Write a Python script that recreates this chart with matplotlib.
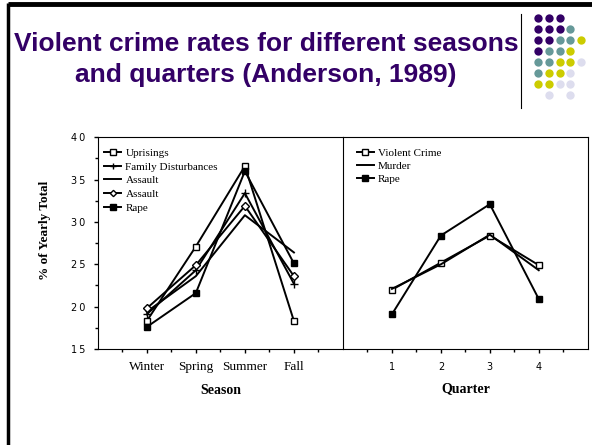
import matplotlib
matplotlib.use("Agg")
import matplotlib.pyplot as plt
from matplotlib.lines import Line2D

# --- data ---
seasons = ["Winter", "Spring", "Summer", "Fall"]
uprisings = [18.3, 27.1, 36.6, 18.3]
family_dist = [19.1, 24.3, 33.4, 22.7]
assault_line = [19.4, 23.6, 30.8, 26.4]
assault_dia = [19.8, 24.9, 31.9, 23.6]
rape_season = [17.6, 21.6, 36.0, 25.1]

quarters = [1, 2, 3, 4]
violent_crime = [22.0, 25.2, 28.4, 24.9]
murder = [22.1, 25.0, 28.5, 24.3]
rape_quarter = [19.1, 28.4, 32.1, 20.9]

title_lines = ["Violent crime rates for different seasons",
               "and quarters (Anderson, 1989)"]

PURPLE = "#330066"
TEAL = "#669999"
YELLOW = "#CCCC00"
LAV = "#DDDDEE"

# dot pattern of the slide decoration, one string per row
dot_rows = ["PPP", "PPPT", "PPTTY", "PTTY", "TTYYL", "TYYL", "YYLL", ".L.L"]
dot_colors = {"P": PURPLE, "T": TEAL, "Y": YELLOW, "L": LAV}

W, H = 592, 445
fig = plt.figure(figsize=(W / 100, H / 100), dpi=100)

# slide background: border, title and decoration
bg = fig.add_axes([0, 0, 1, 1])
bg.set_xlim(0, W)
bg.set_ylim(H, 0)
bg.axis("off")
bg.plot([8, W], [4, 4], color="black", lw=3.5, solid_capstyle="butt")
bg.plot([8, 8], [3, H], color="black", lw=2.5, solid_capstyle="butt")
bg.plot([521, 521], [14, 108], color="black", lw=0.8)
for r, row in enumerate(dot_rows):
    for c, ch in enumerate(row):
        if ch == ".":
            continue
        bg.plot(537.7 + c * 10.9, 18.3 + r * 10.9, "o", ms=6,
                color=dot_colors[ch], mec="none")
for i, line in enumerate(title_lines):
    bg.text(266, 44 + i * 31, line, ha="center", va="center",
            fontsize=19, fontweight="bold", color=PURPLE,
            family="Liberation Sans")

serif = "Liberation Serif"
lw = 1.4
ts = "\u2009"

# left panel: seasons
ax1 = fig.add_axes([97.7 / W, 1 - 349 / H, 245.3 / W, 211.7 / H])
x = [1, 2, 3, 4]
ax1.plot(x, uprisings, color="black", lw=lw, marker="s", ms=4.5, mfc="white", mec="black")
ax1.plot(x, family_dist, color="black", lw=lw, marker="+", ms=6)
ax1.plot(x, assault_line, color="black", lw=lw)
ax1.plot(x, assault_dia, color="black", lw=lw, marker="D", ms=3.8, mfc="white", mec="black")
ax1.plot(x, rape_season, color="black", lw=lw, marker="s", ms=4.5, mfc="black")
ax1.set_xlim(0, 5)
ax1.set_ylim(15, 40)
ax1.set_xticks(x)
ax1.set_xticklabels(seasons, family=serif, fontsize=9.5, va="baseline")
ax1.set_xticks([0.5, 1.5, 2.5, 3.5, 4.5], minor=True)
ax1.set_yticks([15, 20, 25, 30, 35, 40])
ax1.set_yticklabels([ts.join(str(v)) for v in [15, 20, 25, 30, 35, 40]], fontsize=7)
ax1.set_yticks([17.5, 22.5, 27.5, 32.5, 37.5], minor=True)
ax1.tick_params(length=3, width=1, pad=6)
ax1.tick_params(axis="x", pad=12)
ax1.tick_params(which="minor", length=2, width=1)
ax1.set_xlabel("Season", family=serif, fontweight="bold", fontsize=10, labelpad=8)
ax1.set_ylabel("% of Yearly Total", family=serif, fontweight="bold", fontsize=9.5)
ax1.yaxis.set_label_coords(-0.19, 0.56)
ax1.spines["right"].set_visible(False)

handles1 = [
    Line2D([], [], color="black", lw=lw, marker="s", ms=3.8, mfc="white"),
    Line2D([], [], color="black", lw=lw, marker="+", ms=5),
    Line2D([], [], color="black", lw=lw),
    Line2D([], [], color="black", lw=lw, marker="D", ms=3.2, mfc="white"),
    Line2D([], [], color="black", lw=lw, marker="s", ms=3.8, mfc="black"),
]
ax1.legend(handles1, ["Uprisings", "Family Disturbances", "Assault", "Assault", "Rape"],
           loc="upper left", frameon=False, prop={"family": serif, "size": 8},
           handlelength=1.5, handletextpad=0.4, labelspacing=0.35,
           borderaxespad=0.2, bbox_to_anchor=(0.0, 0.98))

# right panel: quarters
ax2 = fig.add_axes([343 / W, 1 - 349 / H, 244.7 / W, 211.7 / H])
ax2.plot(quarters, violent_crime, color="black", lw=lw, marker="s", ms=4.5, mfc="white", mec="black")
ax2.plot(quarters, murder, color="black", lw=lw)
ax2.plot(quarters, rape_quarter, color="black", lw=lw, marker="s", ms=4.5, mfc="black")
ax2.set_xlim(0, 5)
ax2.set_ylim(15, 40)
ax2.set_xticks(quarters)
ax2.set_xticklabels([str(q) for q in quarters], fontsize=7)
ax2.set_xticks([0.5, 1.5, 2.5, 3.5, 4.5], minor=True)
ax2.set_yticks([])
ax2.tick_params(axis="x", length=3, width=1, pad=6)
ax2.tick_params(axis="x", which="minor", length=2, width=1)
ax2.set_xlabel("Quarter", family=serif, fontweight="bold", fontsize=10, labelpad=8)

handles2 = [
    Line2D([], [], color="black", lw=lw, marker="s", ms=3.8, mfc="white"),
    Line2D([], [], color="black", lw=lw),
    Line2D([], [], color="black", lw=lw, marker="s", ms=3.8, mfc="black"),
]
ax2.legend(handles2, ["Violent Crime", "Murder", "Rape"],
           loc="upper left", frameon=False, prop={"family": serif, "size": 8},
           handlelength=1.5, handletextpad=0.4, labelspacing=0.3,
           borderaxespad=0.2, bbox_to_anchor=(0.03, 0.98))

fig.savefig("out.png", dpi=100)
